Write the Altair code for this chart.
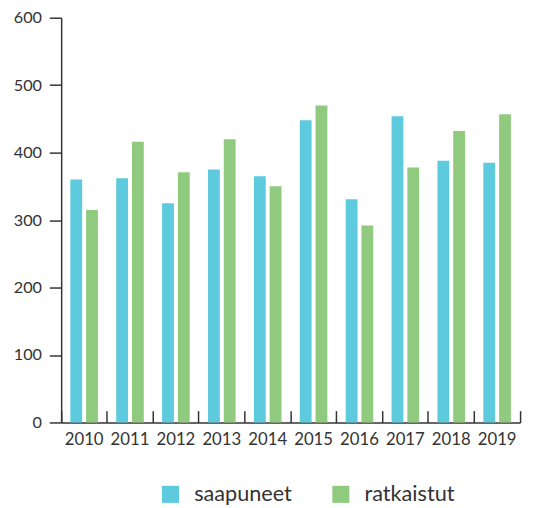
import altair as alt
import pandas as pd

years = ["2010", "2011", "2012", "2013", "2014", "2015", "2016", "2017", "2018", "2019"]
saapuneet = [360, 362, 325, 375, 365, 448, 331, 454, 388, 385]
ratkaistut = [315, 416, 371, 420, 350, 470, 292, 378, 432, 457]
series = ["saapuneet", "ratkaistut"]
colors = ["#5ECADD", "#8FCA7F"]

rows = []
for i, y in enumerate(years):
    rows.append({"vuosi": y, "sarja": series[0], "arvo": saapuneet[i]})
    rows.append({"vuosi": y, "sarja": series[1], "arvo": ratkaistut[i]})
df = pd.DataFrame(rows)

FONT = "Lato"
TXT = "#333333"
W, H = 466, 411

x_enc_scale = alt.Scale(paddingInner=0, paddingOuter=0)
xoff = alt.XOffset("sarja:N", sort=series,
                   scale=alt.Scale(paddingInner=0.25, paddingOuter=0.58))
y_scale = alt.Scale(domain=[0, 600], nice=False)
y_axis = alt.Axis(values=[0, 100, 200, 300, 400, 500, 600], grid=False,
                  labelFont=FONT, labelFontSize=16.5, labelColor=TXT,
                  labelPadding=8, tickSize=12, tickColor=TXT, tickWidth=1.5,
                  domainColor=TXT, domainWidth=1.5)

bars = alt.Chart(df).mark_bar().encode(
    x=alt.X("vuosi:N", sort=years, scale=x_enc_scale, title=None,
            axis=alt.Axis(orient="bottom", ticks=False, labelAngle=0,
                          labelFont=FONT, labelFontSize=17, labelColor=TXT,
                          labelPadding=9, domainColor=TXT, domainWidth=1.5)),
    xOffset=xoff,
    y=alt.Y("arvo:Q", scale=y_scale, title=None, axis=y_axis),
    color=alt.Color("sarja:N", sort=series,
                    scale=alt.Scale(domain=series, range=colors),
                    legend=alt.Legend(title=None, orient="none", direction="horizontal",
                                      legendX=100, legendY=473,
                                      symbolType="square", symbolSize=300,
                                      symbolStrokeWidth=0,
                                      labelFont=FONT, labelFontSize=22, labelColor=TXT,
                                      labelOffset=13, columnPadding=38)),
)

ticks = alt.Chart(df).mark_bar(opacity=0).encode(
    x=alt.X("vuosi:N", sort=years, scale=x_enc_scale, title=None,
            axis=alt.Axis(orient="top", offset=-H, labels=False, domain=False,
                          ticks=True, tickSize=12, tickColor=TXT, tickWidth=1.5,
                          bandPosition=1, tickExtra=True)),
    xOffset=xoff,
    y=alt.Y("arvo:Q", scale=y_scale, title=None, axis=y_axis),
)

chart = alt.layer(bars, ticks).resolve_axis(x="independent").properties(
    width=W, height=H,
    autosize=alt.AutoSizeParams(type="none"),
    padding={"left": 54, "top": 6, "right": 6, "bottom": 83},
).configure_view(stroke=None)

chart.save("out.html", embed_options={"renderer": "svg", "actions": False})
